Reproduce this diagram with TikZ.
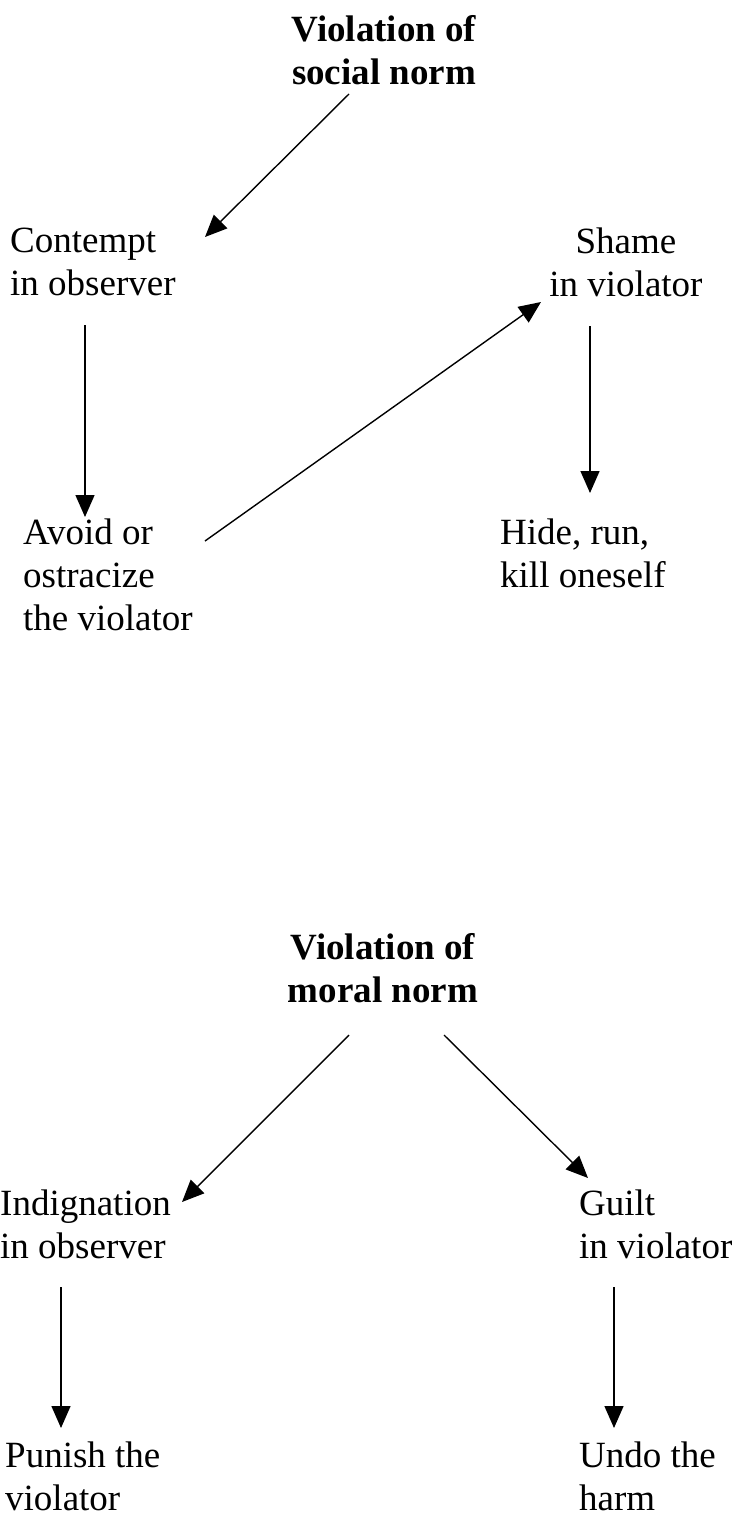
\documentclass[tikz,border=0pt]{standalone}
\usepackage{fontspec}
\setmainfont{Liberation Serif}
\usetikzlibrary{arrows.meta,calc}

\tikzset{
  txt/.style={inner sep=0pt, anchor=north west, align=left,
    font=\fontsize{37}{43}\selectfont},
  title/.style={inner sep=0pt, anchor=north, align=center,
    font=\fontsize{37}{43}\selectfont\bfseries},
  ctr/.style={txt, anchor=north, align=center},
  line/.style={line width=1.4pt},
  arr/.style={line, -{Triangle[length=22pt,width=19pt]}}
}

\begin{document}
\begin{tikzpicture}[x=1pt,y=-1pt]
        \useasboundingbox (0,0) rectangle (740,1517);

        % Norma spoleczna
        \node[title] (social) at (384,15) {Violation of\\social norm};
        \node[txt] (contempt) at (10,228) {Contempt\\in observer};
        \node[ctr] (shame) at (626,228) {Shame\\in violator};
        \node[txt] (avoid) at (23,519) {Avoid or\\ostracize\\the violator};
        \node[txt] (hide) at (500,519) {Hide, run,\\kill oneself};

        \draw[arr] ($(social.north)+(-35,79)$) -- ($(contempt.north west)+(195,9)$);
        \draw[arr] ($(contempt.north west)+(75,97)$) -- ($(avoid.north west)+(62,-2)$);
        \draw[arr] ($(avoid.north west)+(182,22)$) -- ($(shame.north)+(-85,74)$);
        \draw[arr] ($(shame.north)+(-36,98)$) -- ($(hide.north west)+(90,-26)$);

        % Norma moralna
        \node[title] (moral) at (383,933) {Violation of\\moral norm};
        \node[txt] (indig) at (0,1190) {Indignation\\in observer};
        \node[txt] (guilt) at (579,1190) {Guilt\\in violator};
        \node[txt] (punish) at (5,1442) {Punish the\\violator};
        \node[txt] (undo) at (579,1442) {Undo the\\harm};

        \draw[arr] ($(moral.north)+(-34,102)$) -- ($(indig.north west)+(182,12)$);
        \draw[arr] ($(moral.north)+(61,102)$) -- ($(guilt.north west)+(9,-12)$);
        \draw[arr] ($(indig.north west)+(61,97)$) -- ($(punish.north west)+(56,-14)$);
        \draw[arr] ($(guilt.north west)+(35,97)$) -- ($(undo.north west)+(35,-14)$);
    \end{tikzpicture}
\end{document}
